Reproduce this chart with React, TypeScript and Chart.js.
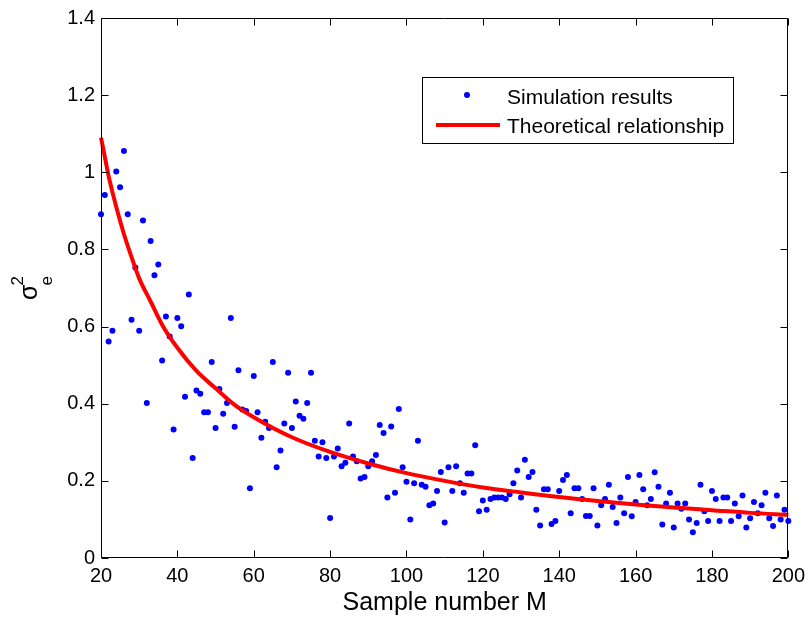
import React, { useEffect, useRef } from "react";
import { Chart, registerables } from "chart.js";

Chart.register(...registerables);

// ---- Data ----
const simM = [
  20, 21, 22, 23, 24, 25, 26, 27, 28, 29, 30, 31, 32, 33, 34, 35, 36, 37, 38, 39,
  40, 41, 42, 43, 44, 45, 46, 47, 48, 49, 50, 51, 52, 53, 54, 55, 56, 57, 58, 59,
  60, 61, 62, 63, 64, 65, 66, 67, 68, 69, 70, 71, 72, 73, 74, 75, 76, 77, 78, 79,
  80, 81, 82, 83, 84, 85, 86, 87, 88, 89, 90, 91, 92, 93, 94, 95, 96, 97, 98, 99,
  100, 101, 102, 103, 104, 105, 106, 107, 108, 109, 110, 111, 112, 113, 114, 115, 116, 117, 118, 119,
  120, 121, 122, 123, 124, 125, 126, 127, 128, 129, 130, 131, 132, 133, 134, 135, 136, 137, 138, 139,
  140, 141, 142, 143, 144, 145, 146, 147, 148, 149, 150, 151, 152, 153, 154, 155, 156, 157, 158, 159,
  160, 161, 162, 163, 164, 165, 166, 167, 168, 169, 170, 171, 172, 173, 174, 175, 176, 177, 178, 179,
  180, 181, 182, 183, 184, 185, 186, 187, 188, 189, 190, 191, 192, 193, 194, 195, 196, 197, 198, 199,
  200,
];

const simValues = [
  0.891, 0.941, 0.561, 0.589, 1.002, 0.961, 1.055, 0.891, 0.618, 0.753, 0.589, 0.875, 0.402, 0.822, 0.733, 0.761, 0.512, 0.626, 0.574, 0.333,
  0.622, 0.601, 0.418, 0.683, 0.259, 0.434, 0.426, 0.378, 0.378, 0.508, 0.337, 0.438, 0.374, 0.402, 0.622, 0.340, 0.487, 0.385, 0.381, 0.181,
  0.472, 0.378, 0.312, 0.353, 0.337, 0.508, 0.235, 0.279, 0.349, 0.480, 0.337, 0.406, 0.369, 0.361, 0.402, 0.480, 0.304, 0.263, 0.300, 0.259,
  0.104, 0.263, 0.284, 0.238, 0.247, 0.349, 0.263, 0.251, 0.206, 0.210, 0.238, 0.251, 0.267, 0.345, 0.324, 0.157, 0.341, 0.169, 0.386, 0.235,
  0.198, 0.100, 0.194, 0.304, 0.190, 0.185, 0.137, 0.141, 0.174, 0.223, 0.092, 0.235, 0.174, 0.238, 0.194, 0.169, 0.219, 0.219, 0.292, 0.121,
  0.149, 0.125, 0.153, 0.157, 0.157, 0.157, 0.153, 0.165, 0.194, 0.227, 0.157, 0.255, 0.210, 0.223, 0.125, 0.084, 0.178, 0.178, 0.088, 0.096,
  0.174, 0.202, 0.215, 0.116, 0.181, 0.181, 0.153, 0.109, 0.109, 0.181, 0.084, 0.137, 0.153, 0.190, 0.132, 0.091, 0.157, 0.116, 0.210, 0.108,
  0.145, 0.215, 0.178, 0.137, 0.153, 0.222, 0.185, 0.087, 0.141, 0.169, 0.079, 0.141, 0.128, 0.141, 0.100, 0.067, 0.091, 0.190, 0.121, 0.096,
  0.174, 0.153, 0.096, 0.157, 0.157, 0.096, 0.141, 0.108, 0.162, 0.079, 0.103, 0.145, 0.116, 0.137, 0.169, 0.103, 0.083, 0.162, 0.100, 0.125,
  0.096,
];

const theoM = [20, 21, 22, 24, 26, 28, 30, 33, 36, 40, 45, 50, 55, 60, 70, 80, 90, 100, 110, 120, 130, 140, 150, 160, 170, 180, 190, 200];
const theoValues = [
  1.09, 1.04, 0.99, 0.91, 0.84, 0.78, 0.725, 0.665, 0.605, 0.545, 0.485, 0.44, 0.397, 0.365, 0.313, 0.275, 0.245, 0.22,
  0.2, 0.183, 0.17, 0.158, 0.148, 0.139, 0.131, 0.124, 0.117, 0.112,
];

const xTicks = [20, 40, 60, 80, 100, 120, 140, 160, 180, 200];
const yTicks = [0, 0.2, 0.4, 0.6, 0.8, 1, 1.2, 1.4];

const legendLabels = ["Simulation results", "Theoretical relationship"];
const xTitle = "Sample number M";

const FONT = "'Liberation Sans', Arial, Helvetica, sans-serif";
const BLUE = "#0000ff";
const RED = "#ff0000";

const framePlugin = {
  id: "matlabFrame",
  afterDraw(chart: any) {
    const { ctx, chartArea, scales } = chart;
    const { left, right, top, bottom } = chartArea;
    const x = scales.x;
    const y = scales.y;
    ctx.save();
    ctx.strokeStyle = "#000";
    ctx.lineWidth = 1;
    const L = Math.round(left) + 0.5;
    const R = Math.round(right) - 0.5;
    const T = Math.round(top) + 0.5;
    const B = Math.round(bottom) - 0.5;
    ctx.beginPath();
    ctx.rect(L, T, R - L, B - T);
    const tl = 7;
    xTicks.forEach((v) => {
      const p = Math.round(x.getPixelForValue(v)) + 0.5;
      ctx.moveTo(p, B);
      ctx.lineTo(p, B - tl);
      ctx.moveTo(p, T);
      ctx.lineTo(p, T + tl);
    });
    yTicks.forEach((v) => {
      const p = Math.round(y.getPixelForValue(v)) + 0.5;
      ctx.moveTo(L, p);
      ctx.lineTo(L + tl, p);
      ctx.moveTo(R, p);
      ctx.lineTo(R - tl, p);
    });
    ctx.stroke();

    // Y axis label: sigma_e^2 rotated
    ctx.fillStyle = "#000";
    ctx.translate(37, 300);
    ctx.rotate(-Math.PI / 2);
    ctx.textBaseline = "alphabetic";
    ctx.textAlign = "left";
    ctx.font = `25px ${FONT}`;
    ctx.fillText("σ", 0, 0);
    const w = ctx.measureText("σ").width;
    ctx.font = `17px ${FONT}`;
    ctx.fillText("2", w - 1, -14);
    ctx.fillText("e", w - 1, 15);
    ctx.restore();

    // Legend box
    ctx.save();
    const bx = 422.5, by = 77.5, bw = 311, bh = 66;
    ctx.fillStyle = "#fff";
    ctx.fillRect(bx, by, bw, bh);
    ctx.strokeStyle = "#000";
    ctx.lineWidth = 1;
    ctx.strokeRect(bx, by, bw, bh);
    ctx.fillStyle = BLUE;
    ctx.beginPath();
    ctx.arc(467, 95, 3, 0, Math.PI * 2);
    ctx.fill();
    ctx.strokeStyle = RED;
    ctx.lineWidth = 4;
    ctx.beginPath();
    ctx.moveTo(436, 125);
    ctx.lineTo(500, 125);
    ctx.stroke();
    ctx.fillStyle = "#000";
    ctx.font = `21px ${FONT}`;
    ctx.textBaseline = "alphabetic";
    ctx.textAlign = "left";
    ctx.fillText(legendLabels[0], 507, 104);
    ctx.fillText(legendLabels[1], 507, 133);
    ctx.restore();
  },
};

export default function App() {
  const ref = useRef<HTMLCanvasElement | null>(null);

  useEffect(() => {
    if (!ref.current) return;
    const chart = new Chart(ref.current, {
      type: "scatter",
      data: {
        datasets: [
          {
            type: "line",
            label: legendLabels[1],
            data: theoM.map((m, i) => ({ x: m, y: theoValues[i] })),
            borderColor: RED,
            borderWidth: 4,
            pointRadius: 0,
            fill: false,
            cubicInterpolationMode: "monotone",
            clip: 6,
          } as any,
          {
            type: "scatter",
            label: legendLabels[0],
            data: simM.map((m, i) => ({ x: m, y: simValues[i] })),
            backgroundColor: BLUE,
            borderWidth: 0,
            pointRadius: 3,
            clip: 6,
          } as any,
        ],
      },
      options: {
        animation: false,
        responsive: false,
        layout: { padding: { left: 0, right: 20, top: 13, bottom: 0 } },
        plugins: {
          legend: { display: false },
          tooltip: { enabled: false },
        },
        scales: {
          x: {
            type: "linear",
            min: 20,
            max: 200,
            afterBuildTicks: (s: any) => {
              s.ticks = xTicks.map((v) => ({ value: v }));
            },
            afterFit: (s: any) => {
              s.height = 64;
            },
            grid: { display: false, drawTicks: false },
            border: { display: false },
            ticks: {
              color: "#000",
              font: { family: FONT, size: 20 },
              padding: 6,
              maxRotation: 0,
              autoSkip: false,
              callback: (v: any) => String(v),
            },
            title: {
              display: true,
              text: xTitle,
              color: "#000",
              font: { family: FONT, size: 25 },
              padding: { top: 0, bottom: 4 },
            },
          },
          y: {
            type: "linear",
            min: 0,
            max: 1.4,
            afterBuildTicks: (s: any) => {
              s.ticks = yTicks.map((v) => ({ value: v }));
            },
            afterFit: (s: any) => {
              s.width = 101;
            },
            grid: { display: false, drawTicks: false },
            border: { display: false },
            ticks: {
              color: "#000",
              font: { family: FONT, size: 20 },
              padding: 6,
              autoSkip: false,
              callback: (v: any) => String(Number(Number(v).toFixed(1))),
            },
          },
        },
      },
      plugins: [framePlugin],
    });
    return () => chart.destroy();
  }, []);

  return (
    <div style={{ position: "fixed", left: 0, top: 0, width: 811, height: 622, background: "#fff" }}>
      <canvas ref={ref} width={811} height={622} style={{ width: 811, height: 622, display: "block" }} />
    </div>
  );
}
